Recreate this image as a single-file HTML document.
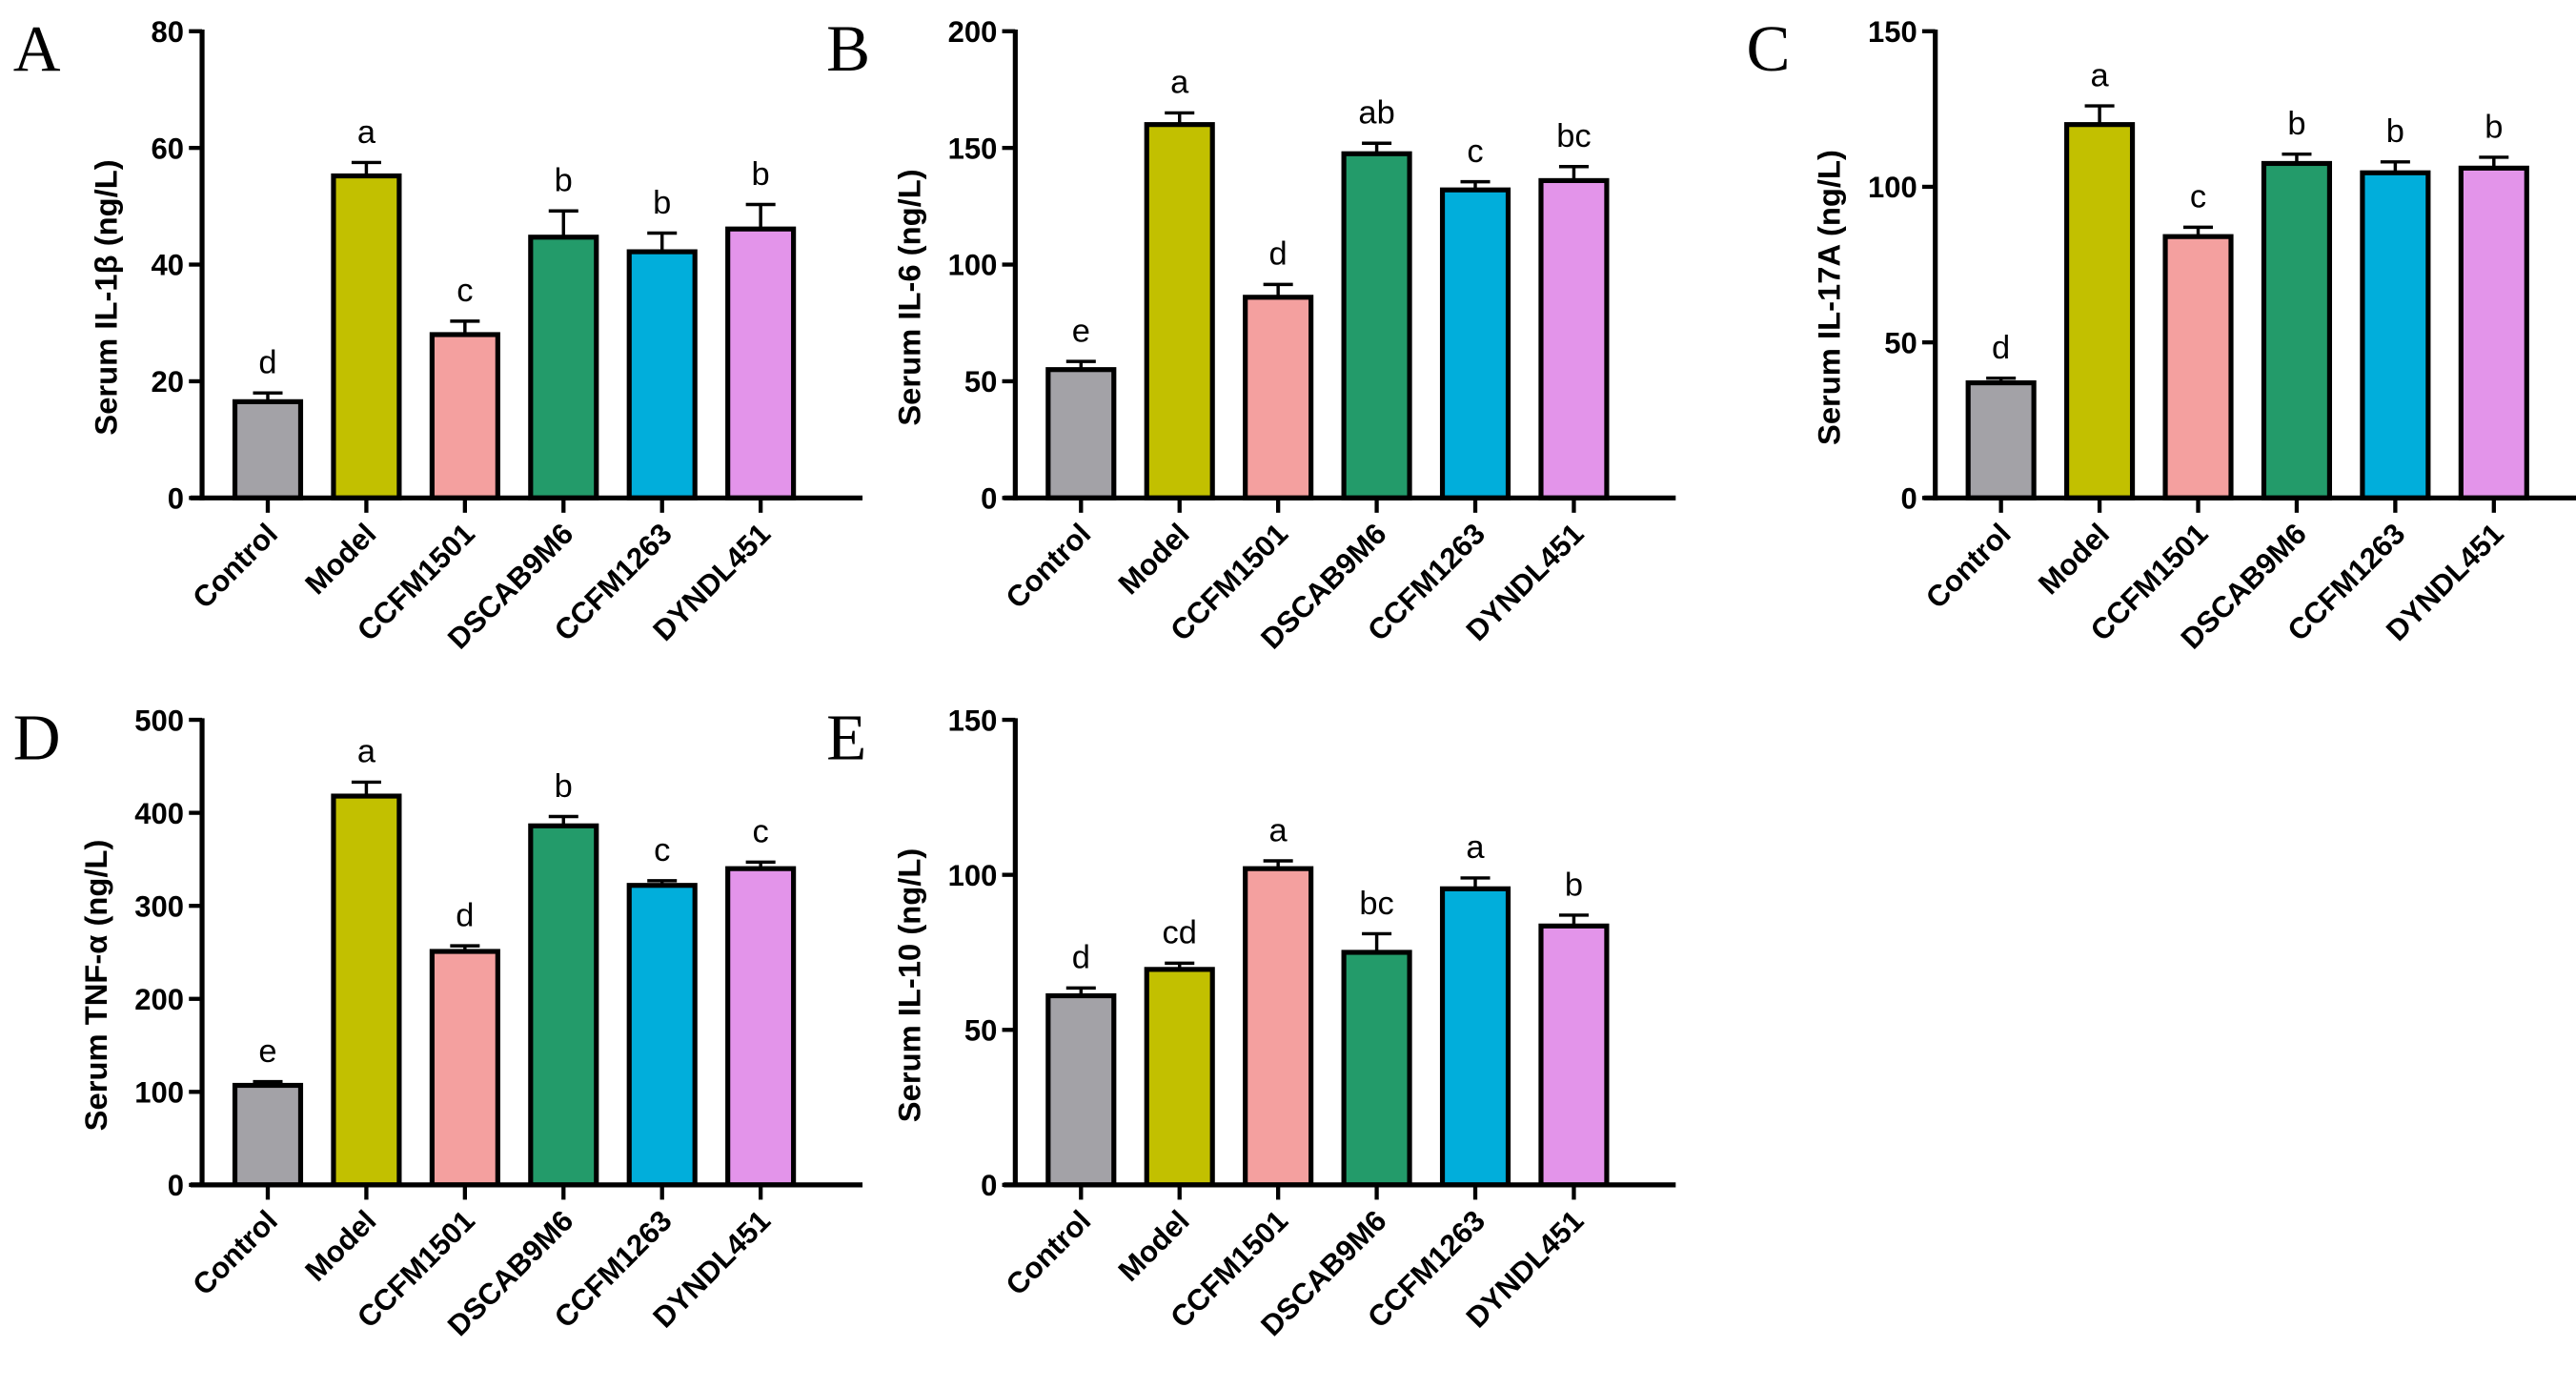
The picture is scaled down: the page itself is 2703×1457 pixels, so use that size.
<!DOCTYPE html>
<html><head><meta charset="utf-8"><style>
html,body{margin:0;padding:0;background:#fff;}
svg{display:block;}
text{font-family:"Liberation Sans",Arial,sans-serif;}
text.serif{font-family:"Liberation Serif","Times New Roman",serif;}
</style></head><body>
<svg id="fig" width="2703" height="1457" viewBox="0 0 1568 845.2" preserveAspectRatio="none" xmlns="http://www.w3.org/2000/svg"></svg>
<script>
const categories = ["Control","Model","CCFM1501","DSCAB9M6","CCFM1263","DYNDL451"];
const colors = ["#a3a2a7","#c2c000","#f4a09f","#239b6a","#01aedb","#e394ea"];
const valsA = [16.5,55.2,28,44.7,42.2,46.1];
const errA = [1.5,2.3,2.3,4.5,3.2,4.2];
const letA = ["d","a","c","b","b","b"];
const ticksA = [0,20,40,60,80];
const valsB = [55,160,86,147.5,132,136];
const errB = [3.5,5,5.5,4.5,3.5,6];
const letB = ["e","a","d","ab","c","bc"];
const ticksB = [0,50,100,150,200];
const valsC = [37,120,84,107.5,104.5,106];
const errC = [1.5,6,3,3,3.5,3.5];
const letC = ["d","a","c","b","b","b"];
const ticksC = [0,50,100,150];
const valsD = [107,418,251,386,322,340];
const errD = [4,15,6,10,5,7];
const letD = ["e","a","d","b","c","c"];
const ticksD = [0,100,200,300,400,500];
const valsE = [61,69.5,102,75,95.5,83.5];
const errE = [2.5,2,2.5,6,3.5,3.5];
const letE = ["d","cd","a","bc","a","b"];
const ticksE = [0,50,100,150];

const NS="http://www.w3.org/2000/svg";
const svg=document.getElementById('fig');
function mk(tag,attrs,parent){const e=document.createElementNS(NS,tag);for(const k in attrs)e.setAttribute(k,attrs[k]);(parent||svg).appendChild(e);return e;}

function panel(id,letter,ax,top,bottom,vals,errs,lets,ticks,title){
  const g=mk('g',{});
  
  
  const maxV=ticks[ticks.length-1];
  const y=v=>bottom-(v/maxV)*(bottom-top);
  const x=i=>ax+40+i*60;
  const pl=mk('text',{x:ax-115,y:top+24,'font-size':40,'class':'serif'},g);
  pl.textContent=letter;
  
  
  vals.forEach((v,i)=>{
    const cx=x(i);
    const eb=mk('path',{d:`M${cx} ${y(v)} V${y(v+errs[i])} M${cx-9} ${y(v+errs[i])} H${cx+9}`,stroke:'#000','stroke-width':2,fill:'none'},g);
    
    
    const r=mk('rect',{x:cx-20,y:y(v),width:40,height:bottom-y(v),fill:colors[i],stroke:'#000','stroke-width':3},g);
    
    
    const lt=mk('text',{x:cx,y:y(v+errs[i])-12,'text-anchor':'middle','font-size':20},g);
    lt.textContent=lets[i];
    
    
    const tk=mk('line',{x1:cx,x2:cx,y1:bottom,y2:bottom+9,stroke:'#000','stroke-width':2.5},g);
    
    
    const cl=mk('text',{x:cx+7,y:bottom+23,'text-anchor':'end','font-size':18,'font-weight':'bold',transform:`rotate(-45 ${cx+7} ${bottom+23})`},g);
    cl.textContent=categories[i];
    
    
  });
  ticks.forEach(t=>{
    const tl=mk('line',{x1:ax-8,x2:ax,y1:y(t),y2:y(t),stroke:'#000','stroke-width':2.5},g);
    
    
    const tt=mk('text',{x:ax-11,y:y(t)+6.5,'text-anchor':'end','font-size':18,'font-weight':'bold'},g);
    tt.textContent=t;
    
    
  });
  const ya=mk('line',{x1:ax,x2:ax,y1:top-1,y2:bottom+1.5,stroke:'#000','stroke-width':3},g);
  
  
  const xa=mk('line',{x1:ax-7,x2:ax+402,y1:bottom,y2:bottom,stroke:'#000','stroke-width':3},g);
  
  
  const cy=(top+bottom)/2+20;
  const tx=ax-(maxV>=100?58:52);
  const yt=mk('text',{x:tx,y:cy,'text-anchor':'middle','font-size':19,'font-weight':'bold',transform:`rotate(-90 ${tx} ${cy})`},g);
  yt.textContent=title;
  
  
}
panel('a','A',123,19,303,valsA,errA,letA,ticksA,'Serum IL-1β (ng/L)');
panel('b','B',618,19,303,valsB,errB,letB,ticksB,'Serum IL-6 (ng/L)');
panel('c','C',1178,19,303,valsC,errC,letC,ticksC,'Serum IL-17A (ng/L)');
panel('d','D',123,438,721,valsD,errD,letD,ticksD,'Serum TNF-α (ng/L)');
panel('e','E',618,438,721,valsE,errE,letE,ticksE,'Serum IL-10 (ng/L)');
</script>
</body></html>
